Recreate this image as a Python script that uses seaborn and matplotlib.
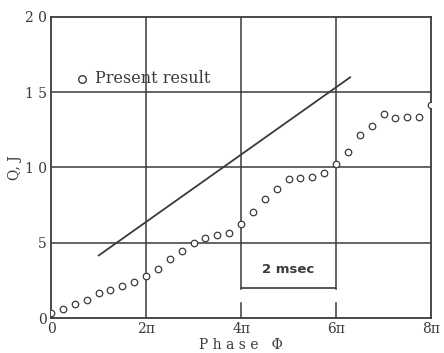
import numpy as np
import pandas as pd
import seaborn as sns
import matplotlib
matplotlib.use("Agg")
import matplotlib.pyplot as plt

# Phase in units of pi
phase_pi = [0, 0.25, 0.5, 0.75, 1.0, 1.25, 1.5, 1.75, 2.0, 2.25, 2.5, 2.75, 3.0,
            3.25, 3.5, 3.75, 4.0, 4.25, 4.5, 4.75, 5.0, 5.25, 5.5, 5.75, 6.0,
            6.25, 6.5, 6.75, 7.0, 7.25, 7.5, 7.75, 8.0]
q_values = [0.33, 0.6, 0.96, 1.22, 1.67, 1.84, 2.16, 2.38, 2.82, 3.27, 3.93, 4.47, 5.0,
            5.31, 5.53, 5.67, 6.27, 7.04, 7.89, 8.56, 9.22, 9.29, 9.4, 9.62, 10.24,
            11.04, 12.16, 12.78, 13.58, 13.31, 13.36, 13.36, 14.16]
line_x = [1.0, 6.3]
line_y = [4.15, 16.0]
x_ticks = [0, 2, 4, 6, 8]
x_tick_labels = ["0", "2\u03c0", "4\u03c0", "6\u03c0", "8\u03c0"]
y_ticks = [0, 5, 10, 15, 20]
y_tick_labels = ["0", "5", "1 0", "1 5", "2 0"]

df = pd.DataFrame({"phase": phase_pi, "Q": q_values})
ln = pd.DataFrame({"phase": line_x, "Q": line_y})

sns.set_style("white")
plt.rcParams["font.family"] = ["DejaVu Serif"]
ink = "#3a3a3a"

fig = plt.figure(figsize=(4.44, 3.53), dpi=100)
ax = fig.add_axes([0.115, 0.099, 0.856, 0.853])

# grid
for gx in [2, 4, 6]:
    ax.axvline(gx, color=ink, lw=1.1, zorder=1)
for gy in [5, 10, 15]:
    ax.axhline(gy, color=ink, lw=1.1, zorder=1)

sns.lineplot(data=ln, x="phase", y="Q", ax=ax, color=ink, lw=1.3, zorder=3)
sns.scatterplot(data=df, x="phase", y="Q", ax=ax, marker="o", s=22,
                facecolor="white", edgecolor=ink, linewidth=0.9, zorder=4)

# 2 msec bracket
ax.fill_between([3.9, 6.1], 1.1, 1.85, color="white", zorder=2)
ax.fill_between([4.1, 5.9], 2.6, 3.8, color="white", zorder=2)
ax.plot([4, 6], [2.0, 2.0], color=ink, lw=1.2, zorder=3)
ax.text(5, 3.2, "2 msec", ha="center", va="center", fontsize=9.5,
        fontweight="bold", color=ink, family="DejaVu Sans", zorder=5)

# legend-like label
ax.scatter([0.65], [15.9], s=30, facecolor="white", edgecolor=ink,
           linewidth=1.0, zorder=4)
ax.text(0.93, 15.9, "Present result", ha="left", va="center", fontsize=11.5,
        color=ink, zorder=5)

ax.set_xlim(0, 8)
ax.set_ylim(0, 20)
ax.set_xticks(x_ticks)
ax.set_xticklabels(x_tick_labels, fontsize=10, color=ink)
ax.set_yticks(y_ticks)
ax.set_yticklabels(y_tick_labels, fontsize=10, color=ink)
ax.tick_params(length=0, pad=3)
ax.set_xlabel("P h a s e   \u03a6", fontsize=10, color=ink, labelpad=1)
ax.set_ylabel("Q, J", fontsize=10, color=ink, labelpad=2)
for sp in ax.spines.values():
    sp.set_color(ink)
    sp.set_linewidth(1.3)

fig.savefig("out.png", dpi=100)
